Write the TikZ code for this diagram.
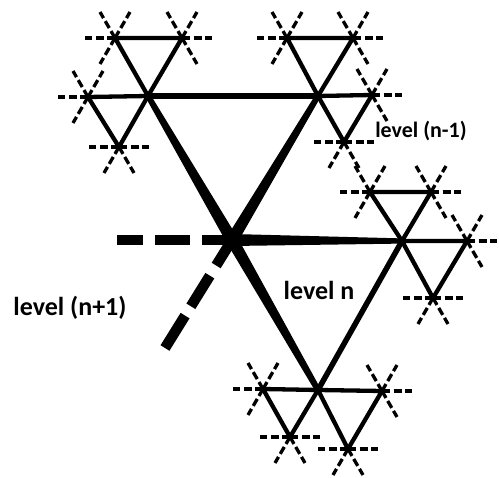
\documentclass[tikz,border=0pt]{standalone}
\usepackage{fontspec}
\setmainfont{Carlito}
\usetikzlibrary{calc}
\newcommand\taperedge[4]{\fill ($(#1)!#3!90:(#2)$) -- ($(#1)!#3!-90:(#2)$) -- ($(#2)!#4!90:(#1)$) -- ($(#2)!#4!-90:(#1)$) -- cycle;}
\newcommand\stubset[2]{\foreach \a in {#2} {\draw[stubline] (#1) -- ++({30*cos(\a)},{-30*sin(\a)});}}
\tikzset{
  bigedge/.style={line width=6pt, line cap=round},
  smalltri/.style={line width=4.3pt, line join=round},
  stubline/.style={line width=3.3pt, dash pattern=on 8pt off 3.5pt},
  thickdash/.style={line width=10.5pt},
  lbl/.style={font=\bfseries, inner sep=0pt}
}
\begin{document}
\begin{tikzpicture}[x=1pt,y=-1pt]
\useasboundingbox (0,0) rectangle (499,478);
% level n vertices
\coordinate (C) at (232,240);
\coordinate (A) at (148,96);
\coordinate (B) at (318,96);
\coordinate (D) at (402,241);
\coordinate (E) at (318,390);
\coordinate (L) at (117,240);
\coordinate (M) at (165,348);
% level n triangles
\draw[bigedge] (A) -- (B);
\draw[bigedge, line width=5.5pt] (D) -- (E);
\taperedge{C}{A}{6pt}{2.8pt}
\taperedge{C}{B}{6pt}{2.8pt}
\taperedge{C}{D}{6pt}{2.6pt}
\taperedge{C}{E}{6pt}{2.9pt}
% level n+1 (dashed)
\draw[thickdash, dash pattern=on 26pt off 12pt on 35pt off 12pt on 40pt] (L) -- (C);
\draw[thickdash, dash pattern=on 30pt off 12pt on 36pt off 11pt on 40pt] (C) -- (M);
% level n-1 triangles
\coordinate (T1l) at (115,38); \coordinate (T1r) at (182,38);
\coordinate (T2l) at (88,97);  \coordinate (T2b) at (119,147);
\coordinate (T3l) at (287,38); \coordinate (T3r) at (353,38);
\coordinate (T4r) at (372,95); \coordinate (T4b) at (344,142);
\coordinate (T5l) at (370,192); \coordinate (T5r) at (431,192);
\coordinate (T6r) at (467,241); \coordinate (T6b) at (433,298);
\coordinate (T7l) at (263,389); \coordinate (T7b) at (290,437);
\coordinate (T8r) at (382,391); \coordinate (T8b) at (348,449);
\draw[smalltri] (T1l) -- (T1r) -- (A) -- cycle;
\draw[smalltri] (T2l) -- (A) -- (T2b) -- cycle;
\draw[smalltri] (T3l) -- (T3r) -- (B) -- cycle;
\draw[smalltri] (B) -- (T4r) -- (T4b) -- cycle;
\draw[smalltri] (T5l) -- (T5r) -- (D) -- cycle;
\draw[smalltri] (D) -- (T6r) -- (T6b) -- cycle;
\draw[smalltri] (T7l) -- (E) -- (T7b) -- cycle;
\draw[smalltri] (E) -- (T8r) -- (T8b) -- cycle;
% level n-2 stubs
\stubset{T1l}{60,120,180,240}
\stubset{T1r}{0,60,120,300}
\stubset{T2l}{60,120,180,240}
\stubset{T2b}{0,180,240,300}
\stubset{T3l}{60,120,180,240}
\stubset{T3r}{0,60,120,300}
\stubset{T4r}{0,60,120,300}
\stubset{T4b}{0,180,240,300}
\stubset{T5l}{60,120,180,240}
\stubset{T5r}{0,60,120,300}
\stubset{T6r}{0,60,120,300}
\stubset{T6b}{0,180,240,300}
\stubset{T7l}{60,120,180,240}
\stubset{T7b}{0,180,240,300}
\stubset{T8r}{0,60,120,300}
\stubset{T8b}{0,180,240,300}
% labels
\node[lbl, font=\fontsize{22}{24}\selectfont\bfseries] (l1) at (421,131) {level (n-1)};
\node[lbl, font=\fontsize{26}{28}\selectfont\bfseries] (l2) at (319,290) {level n};
\node[lbl, font=\fontsize{26}{28}\selectfont\bfseries] (l3) at (70,308) {level (n+1)};
\end{tikzpicture}
\end{document}
